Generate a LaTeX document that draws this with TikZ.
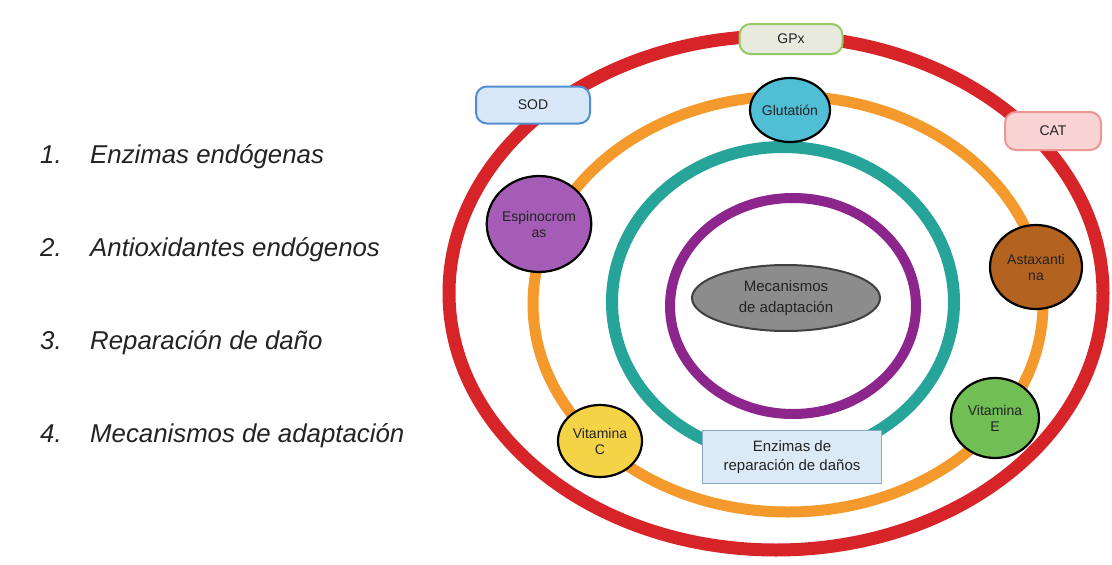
\documentclass[tikz,border=0pt]{standalone}
\usepackage{fontspec}
\setmainfont{Liberation Sans}
\usetikzlibrary{shapes.geometric}
\definecolor{cred}{RGB}{214,36,40}
\definecolor{corange}{RGB}{244,154,44}
\definecolor{cteal}{RGB}{38,164,154}
\definecolor{cpurple}{RGB}{140,38,140}
\definecolor{cgray}{RGB}{140,140,140}
\definecolor{cglut}{RGB}{80,190,212}
\definecolor{cespi}{RGB}{164,92,182}
\definecolor{castax}{RGB}{180,98,32}
\definecolor{cvite}{RGB}{112,190,84}
\definecolor{cvitc}{RGB}{244,212,70}
\definecolor{cgpxf}{RGB}{232,234,222}
\definecolor{cgpxd}{RGB}{150,200,100}
\definecolor{csodf}{RGB}{216,232,248}
\definecolor{csodd}{RGB}{84,142,210}
\definecolor{ccatf}{RGB}{250,212,212}
\definecolor{ccatd}{RGB}{236,150,150}
\definecolor{cboxf}{RGB}{220,233,246}
\definecolor{cboxd}{RGB}{140,168,200}
\definecolor{ctext}{RGB}{35,35,35}
\tikzset{
  ring/.style={line width=#1},
  blob/.style={ellipse, draw=black, line width=2.2pt, inner sep=0pt, align=center,
     font=\fontsize{14}{16}\selectfont, text=ctext},
  pill/.style={rounded corners=11pt, line width=2pt, inner sep=0pt, align=center,
     font=\fontsize{14}{16}\selectfont, text=ctext},
  listnum/.style={anchor=base west, font=\fontsize{25.8}{30}\selectfont\itshape, text=ctext, inner sep=0pt},
}
\begin{document}
\begin{tikzpicture}[x=1pt,y=-1pt]
\useasboundingbox[fill=white] (0,0) rectangle (1112,565);
% list
\node[listnum] (n1) at (40,163) {1.};
\node[listnum] (t1) at (90,163) {Enzimas endógenas};
\node[listnum] (n2) at (40,256) {2.};
\node[listnum] (t2) at (90,256) {Antioxidantes endógenos};
\node[listnum] (n3) at (40,349) {3.};
\node[listnum] (t3) at (90,349) {Reparación de daño};
\node[listnum] (n4) at (40,442) {4.};
\node[listnum] (t4) at (90,442) {Mecanismos de adaptación};
% rings
\draw[ring=13pt, cred] (776,293) ellipse [x radius=327, y radius=257];
\draw[ring=11pt, corange] (788,304) ellipse [x radius=255, y radius=208];
\draw[ring=12pt, cteal] (783,302) ellipse [x radius=171, y radius=155];
\draw[ring=10pt, cpurple] (793,306) ellipse [x radius=123, y radius=108];
% centre
\node[ellipse, draw=black!75, line width=2pt, fill=cgray, minimum width=188pt, minimum height=66pt,
  inner sep=0pt, align=center, font=\fontsize{15}{21}\selectfont, text=ctext] (mec) at (786,298)
  {Mecanismos\\de adaptación};
\node[draw=cboxd, line width=1pt, fill=cboxf, minimum width=179pt, minimum height=53pt,
  inner sep=0pt, align=center, font=\fontsize{15}{19}\selectfont, text=ctext] (rep) at (792,457)
  {Enzimas de\\reparación de daños};
% antioxidants
\node[blob, fill=cglut, minimum width=80pt, minimum height=64pt] (glu) at (790,110) {Glutatión};
\node[blob, fill=cespi, minimum width=92pt, minimum height=96pt] (esp) at (539,224) {Espinocrom\\as};
\node[blob, fill=castax, minimum width=92pt, minimum height=84pt] (ast) at (1036,267) {Astaxanti\\na};
\node[blob, fill=cvite, minimum width=88pt, minimum height=80pt] (vie) at (995,418) {Vitamina\\E};
\node[blob, fill=cvitc, minimum width=84pt, minimum height=72pt] (vic) at (600,441) {Vitamina\\C};
% enzymes
\node[pill, draw=cgpxd, fill=cgpxf, minimum width=103pt, minimum height=30pt] (gpx) at (791,39) {GPx};
\node[pill, draw=csodd, fill=csodf, minimum width=114pt, minimum height=37pt] (sod) at (533,105) {SOD};
\node[pill, draw=ccatd, fill=ccatf, minimum width=96pt, minimum height=38pt] (cat) at (1053,131) {CAT};
\end{tikzpicture}
\end{document}
